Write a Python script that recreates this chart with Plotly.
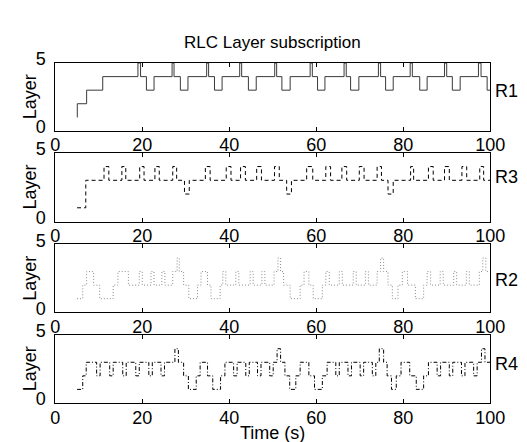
import plotly.graph_objects as go

# ---- data (step series: time of change, new layer) ----
r1_t = [5.0, 5.05, 7.2, 10.9, 19.0, 19.6, 20.95, 22.7, 26.85, 27.3, 28.75, 30.5,
        34.8, 35.25, 36.6, 38.35, 42.4, 42.85, 44.4, 46.2, 50.45, 50.9, 52.1, 54.0,
        58.6, 59.1, 60.3, 62.0, 66.4, 66.9, 67.9, 69.8, 74.3, 74.8, 75.95, 77.7,
        81.6, 82.1, 83.8, 85.5, 89.5, 90.0, 91.3, 93.1, 97.3, 97.9, 99.3, 100.0]
r1_v = [1, 2, 3, 4, 5, 4, 3, 4, 5, 4, 3, 4,
        5, 4, 3, 4, 5, 4, 3, 4, 5, 4, 3, 4,
        5, 4, 3, 4, 5, 4, 3, 4, 5, 4, 3, 4,
        5, 4, 3, 4, 5, 4, 3, 4, 5, 4, 3, 3]

r3_t = [5.0, 7.0, 11.2, 12.3, 15.3, 16.2, 19.4, 20.4, 22.9, 23.9, 27.0, 27.9, 29.7, 30.8,
        34.5, 35.6, 39.3, 40.4, 42.6, 43.7, 46.3, 47.4, 50.4, 51.5, 53.2, 54.3,
        57.8, 59.2, 62.2, 63.3, 65.9, 67.0, 69.9, 71.0, 74.0, 75.0, 76.5, 77.7,
        81.7, 82.4, 85.8, 86.9, 89.5, 90.6, 93.5, 94.6, 97.6, 98.5, 100.0]
r3_v = [1, 3, 4, 3, 4, 3, 4, 3, 4, 3, 4, 3, 2, 3,
        4, 3, 4, 3, 4, 3, 4, 3, 4, 3, 2, 3,
        4, 3, 4, 3, 4, 3, 4, 3, 4, 3, 2, 3,
        4, 3, 4, 3, 4, 3, 4, 3, 4, 3, 3]

r2_t = [5.0, 6.3, 7.2, 8.8, 10.2, 13.3, 14.4, 16.8, 19.3, 20.0, 22.0, 22.7, 24.5, 25.2,
        27.0, 28.0, 28.5, 29.5, 30.7, 32.7, 33.5, 35.0, 35.8, 37.9, 38.5, 39.2, 41.5, 42.2,
        44.8, 45.5, 47.5, 48.2, 50.3, 51.2, 51.8, 52.5, 54.0, 56.3, 57.2, 58.3, 59.3, 61.4,
        62.2, 63.0, 65.3, 66.0, 68.5, 69.2, 71.3, 72.0, 74.0, 74.8, 75.5, 76.5, 77.5, 78.8,
        79.8, 81.0, 82.8, 84.7, 85.5, 86.3, 88.5, 89.2, 91.6, 92.3, 94.5, 95.2, 97.5, 98.3,
        99.0, 100.0]
r2_v = [1, 2, 3, 2, 1, 2, 3, 2, 3, 2, 3, 2, 3, 2,
        3, 4, 3, 2, 1, 2, 3, 2, 1, 2, 3, 2, 3, 2,
        3, 2, 3, 2, 3, 4, 3, 2, 1, 2, 3, 2, 1, 2,
        3, 2, 3, 2, 3, 2, 3, 2, 3, 4, 3, 2, 1, 2,
        3, 2, 1, 2, 3, 2, 3, 2, 3, 2, 3, 2, 3, 4,
        3, 3]

r4_t = [5.0, 6.3, 7.1, 9.5, 10.3, 12.5, 13.3, 15.5, 16.3, 18.5, 19.3, 21.5, 22.3, 24.3, 25.1,
        27.5, 28.3, 29.5, 30.6, 32.4, 33.3, 35.0, 36.2, 38.0, 39.0, 41.0, 41.8, 43.8, 44.6,
        46.5, 47.3, 49.3, 50.1, 51.0, 51.8, 52.8, 53.9, 55.3, 56.3, 58.3, 59.6, 61.4, 62.5,
        64.5, 65.3, 67.3, 68.1, 70.1, 70.9, 72.9, 73.7, 74.5, 75.5, 76.3, 77.3, 78.4, 79.5,
        81.5, 83.0, 84.7, 85.8, 87.8, 88.6, 90.6, 91.4, 93.4, 94.2, 96.2, 97.0, 98.0, 98.8, 100.0]
r4_v = [1, 2, 3, 2, 3, 2, 3, 2, 3, 2, 3, 2, 3, 2, 3,
        4, 3, 2, 1, 2, 3, 2, 1, 2, 3, 2, 3, 2, 3,
        2, 3, 2, 3, 4, 3, 2, 1, 2, 3, 2, 1, 2, 3,
        2, 3, 2, 3, 2, 3, 2, 3, 4, 3, 2, 1, 2, 3,
        2, 1, 2, 3, 2, 3, 2, 3, 2, 3, 2, 3, 4, 3, 3]

x_ticks = [0, 20, 40, 60, 80, 100]
y_ticks = [0, 5]
series_names = ["R1", "R3", "R2", "R4"]

W, H = 527, 442
FONT = "Liberation Sans, Arial, Helvetica, sans-serif"
FS = 18

# pixel geometry of the axes boxes
left_px, right_px = 44, 496
panels_px = [(43, 114), (137, 209), (233, 304), (328, 399)]

fig = go.Figure()

series = [
    (r1_t, r1_v, dict(color="#3a3a3a", width=1)),
    (r3_t, r3_v, dict(color="#000000", width=1, dash="4px,3px")),
    (r2_t, r2_v, dict(color="#8a8a8a", width=1, dash="1px,2px")),
    (r4_t, r4_v, dict(color="#000000", width=1, dash="4px,2px,1px,2px")),
]

label_y_px = [72, 162, 270, 358]

for i, ((t, v, line), (top, bot)) in enumerate(zip(series, panels_px)):
    n = i + 1
    xa = "x" if n == 1 else f"x{n}"
    ya = "y" if n == 1 else f"y{n}"
    fig.add_trace(go.Scatter(x=t, y=v, mode="lines", line=line, line_shape="hv",
                             xaxis=xa, yaxis=ya, showlegend=False, hoverinfo="skip"))
    common = dict(showline=True, linecolor="black", linewidth=1, mirror="allticks",
                  ticks="inside", ticklen=4, tickcolor="black", tickwidth=1,
                  showgrid=False, zeroline=False,
                  tickfont=dict(family=FONT, size=FS, color="black"))
    fig.update_layout(**{
        ("xaxis" if n == 1 else f"xaxis{n}"): dict(
            domain=[left_px / W, right_px / W], range=[0, 100],
            tickvals=x_ticks, ticktext=[str(x) for x in x_ticks],
            anchor=ya, ticklabelstandoff=-2, **common),
        ("yaxis" if n == 1 else f"yaxis{n}"): dict(
            domain=[1 - bot / H, 1 - top / H], range=[0, 5],
            tickvals=y_ticks, ticktext=[str(y) for y in y_ticks],
            anchor=xa, ticklabelstandoff=5, ticklabelshift=-4, **common),
    })
    fig.add_annotation(text="Layer", xref="paper", yref="paper",
                       x=18 / W, y=1 - (top + bot) / 2 / H, textangle=-90,
                       showarrow=False, xanchor="center", yanchor="middle",
                       font=dict(family=FONT, size=FS, color="black"))
    fig.add_annotation(text=series_names[i], xref="paper", yref="paper",
                       x=499 / W, y=1 - label_y_px[i] / H,
                       showarrow=False, xanchor="left", yanchor="middle",
                       font=dict(family=FONT, size=FS, color="black"))

fig.add_annotation(text="RLC Layer subscription", xref="paper", yref="paper",
                   x=(left_px + right_px) / 2 / W, y=1 - 21 / H, showarrow=False,
                   xanchor="center", yanchor="middle",
                   font=dict(family=FONT, size=17, color="black"))
fig.add_annotation(text="Time (s)", xref="paper", yref="paper",
                   x=(left_px + right_px) / 2 / W, y=0.0, showarrow=False,
                   xanchor="center", yanchor="bottom", borderpad=0,
                   font=dict(family=FONT, size=FS, color="black"))

fig.update_layout(width=W, height=H, margin=dict(l=0, r=0, t=0, b=0),
                  paper_bgcolor="white", plot_bgcolor="white",
                  font=dict(family=FONT, size=FS, color="black"))

fig.write_html("out.html")
